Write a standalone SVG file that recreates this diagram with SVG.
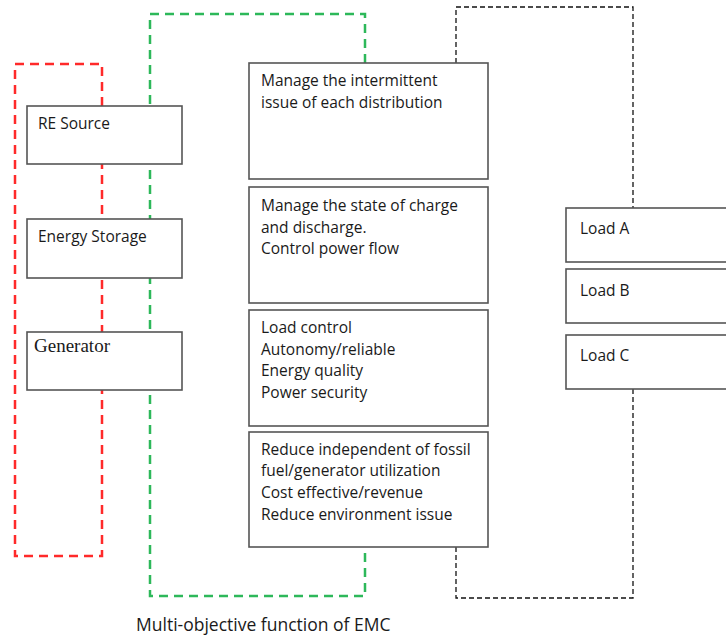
<svg xmlns="http://www.w3.org/2000/svg" width="726" height="635" viewBox="0 0 726 635">
<style>
.box{fill:#fff;stroke:#555;stroke-width:1.6}
.t{font-family:"Open Sans","Liberation Sans",sans-serif;font-size:15.5px;fill:#1a1a1a}
.red{fill:none;stroke:#ff2a2a;stroke-width:2.5;stroke-dasharray:9 6}
.green{fill:none;stroke:#2db85a;stroke-width:2.5;stroke-dasharray:9 6}
.black{fill:none;stroke:#111;stroke-width:1.3;stroke-dasharray:5 3}
</style>
<rect width="726" height="635" fill="#fff"/>
<g id="connectors">
<path class="red" d="M102,106 V64 H15 V556 H102 V164"/>
<path class="green" d="M365,63 V14 H150 V596 H365 V547"/>
<path class="black" d="M456,63 V7 H633 V208"/>
<path class="black" d="M633,389 V598 H456 V547"/>
</g>
<g id="re-source"><rect class="box" x="27" y="106" width="155" height="58"/><text class="t" x="38" y="129">RE Source</text></g>
<g id="energy-storage"><rect class="box" x="27" y="219" width="155" height="59"/><text class="t" x="38" y="242">Energy Storage</text></g>
<g id="generator"><rect class="box" x="27" y="332" width="155" height="58"/><text x="34" y="352" style="font-family:'Liberation Serif',serif;font-size:19px;fill:#1a1a1a">Generator</text></g>
<g id="obj1"><rect class="box" x="249" y="63" width="239" height="116"/><text class="t" x="261" y="86">Manage the intermittent</text><text class="t" x="261" y="108">issue of each distribution</text></g>
<g id="obj2"><rect class="box" x="249" y="187" width="239" height="116"/><text class="t" x="261" y="211">Manage the state of charge</text><text class="t" x="261" y="233">and discharge.</text><text class="t" x="261" y="254">Control power flow</text></g>
<g id="obj3"><rect class="box" x="249" y="310" width="239" height="116"/><text class="t" x="261" y="333">Load control</text><text class="t" x="261" y="355">Autonomy/reliable</text><text class="t" x="261" y="376">Energy quality</text><text class="t" x="261" y="398">Power security</text></g>
<g id="obj4"><rect class="box" x="249" y="432" width="239" height="115"/><text class="t" x="261" y="455">Reduce independent of fossil</text><text class="t" x="261" y="476">fuel/generator utilization</text><text class="t" x="261" y="498">Cost effective/revenue</text><text class="t" x="261" y="520">Reduce environment issue</text></g>
<g id="load-a"><rect class="box" x="566" y="208" width="170" height="54"/><text class="t" x="580" y="234">Load A</text></g>
<g id="load-b"><rect class="box" x="566" y="269" width="170" height="54"/><text class="t" x="580" y="296">Load B</text></g>
<g id="load-c"><rect class="box" x="566" y="335" width="170" height="54"/><text class="t" x="580" y="361">Load C</text></g>
<text x="136" y="631" style="font-family:'Open Sans','Liberation Sans',sans-serif;font-size:17.5px;fill:#1a1a1a">Multi-objective function of EMC</text>
</svg>
